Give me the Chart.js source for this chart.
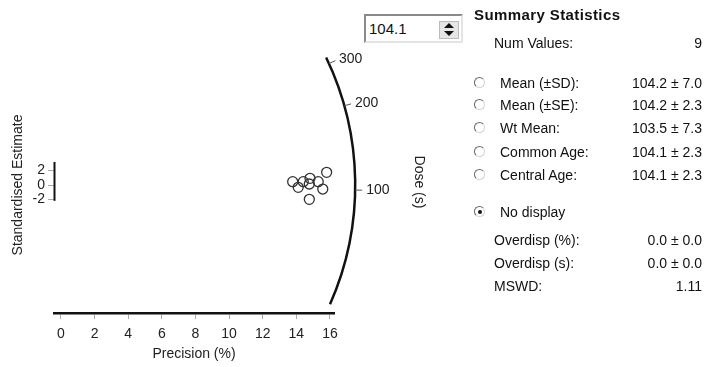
<!DOCTYPE html>
<html lang="en">
<head>
  <meta charset="UTF-8">
  <title>Radial Plot</title>
  <script src="https://cdn.jsdelivr.net/npm/chart.js"></script>
  <style>
    body { margin: 0; background: #fff; width: 705px; height: 367px; overflow: hidden; position: relative; font-family: "Liberation Sans", Arial, sans-serif; color: #111; }
    #plot { position: absolute; left: 0; top: 0; }
    #refBox { position: absolute; left: 364px; top: 14px; width: 95px; height: 25px; background: #fff;
      border: 2px solid; border-color: #8a8a8a #e4e4e4 #e4e4e4 #8a8a8a; font-size: 15px; }
    #refBox span { position: absolute; left: 3px; top: 4px; }
    #refBox .spin { position: absolute; right: 2px; top: 5px; width: 18px; height: 16px; background: #e6e6e6; border: 1px solid #bbb; }
    #refBox .up, #refBox .down { position: absolute; left: 4px; width: 0; height: 0; border-left: 5px solid transparent; border-right: 5px solid transparent; }
    #refBox .up { top: 1px; border-bottom: 5px solid #111; }
    #refBox .down { top: 9px; border-top: 5px solid #111; }
    .txt { position: absolute; height: 16px; line-height: 16px; font-size: 14px; white-space: nowrap; }
    .val { position: absolute; right: 3px; height: 16px; line-height: 16px; font-size: 14px; white-space: nowrap; }
    .radio { position: absolute; left: 474px; width: 9px; height: 9px; border-radius: 50%; border: 1.5px solid; border-color: #666 #d4d4d4 #d4d4d4 #666; }
    .radio.on::after { content: ""; position: absolute; left: 2.5px; top: 2.5px; width: 4px; height: 4px; border-radius: 50%; background: #111; }
  </style>
</head>
<body>
<canvas id="plot" width="460" height="367"></canvas>
<div id="refBox"><span id="refText"></span><div class="spin"><div class="up"></div><div class="down"></div></div></div>
<div class="txt" style="left:474px; top:7px; font-weight:bold; font-size:15px; letter-spacing:0.4px;">Summary Statistics</div>
<div id="panel"></div>

<script>
  // radial plot data
  const precision = [13.78, 14.11, 14.41, 14.81, 14.77, 15.30, 15.57, 15.80, 14.77];
  const stdEstimate = [0.46, -0.32, 0.46, 0.93, 0.14, 0.46, -0.56, 1.76, -1.99];
  const precisionTicks = [0, 2, 4, 6, 8, 10, 12, 14, 16];
  const estimateTicks = [-2, 0, 2];
  const doseTicks = [100, 200, 300];
  const refDose = 104.1;
  const arcRadius = 17.5;        // in precision units
  const arcDoseRange = [37, 320];
  const estimateBar = [-2.2, 3.2];

  // summary panel
  const statNames = ["Mean (\u00b1SD):", "Mean (\u00b1SE):", "Wt Mean:", "Common Age:", "Central Age:", "No display"];
  const statValues = ["104.2 \u00b1 7.0", "104.2 \u00b1 2.3", "103.5 \u00b1 7.3", "104.1 \u00b1 2.3", "104.1 \u00b1 2.3", ""];
  const statRows = [83, 105, 128, 152, 175, 212];
  const extraNames = ["Overdisp (%):", "Overdisp (s):", "MSWD:"];
  const extraValues = ["0.0 \u00b1 0.0", "0.0 \u00b1 0.0", "1.11"];
  const extraRows = [240, 263, 286];
  const numValues = precision.length;

  document.getElementById("refText").textContent = refDose.toFixed(1);

  const panel = document.getElementById("panel");
  function addRow(label, value, cy, labelX) {
    const l = document.createElement("div");
    l.className = "txt";
    l.style.left = labelX + "px";
    l.style.top = (cy - 8) + "px";
    l.textContent = label;
    panel.appendChild(l);
    if (value !== "") {
      const v = document.createElement("div");
      v.className = "val";
      v.style.top = (cy - 8) + "px";
      v.textContent = value;
      panel.appendChild(v);
    }
  }
  addRow("Num Values:", String(numValues), 43, 494);
  statNames.forEach((n, i) => {
    addRow(n, statValues[i], statRows[i], 500);
    const r = document.createElement("div");
    r.className = "radio" + (i === statNames.length - 1 ? " on" : "");
    r.style.top = (statRows[i] - 6) + "px";
    panel.appendChild(r);
  });
  extraNames.forEach((n, i) => addRow(n, extraValues[i], extraRows[i], 494));

  const font = { family: "'Liberation Sans', Arial, sans-serif", size: 14 };

  const radialAxis = {
    id: "radialAxis",
    afterDraw(chart) {
      const { ctx, scales: { x, y } } = chart;
      const ox = x.getPixelForValue(0), oy = y.getPixelForValue(0);
      const r = x.getPixelForValue(arcRadius) - ox;
      const kx = x.getPixelForValue(1) - ox;
      const ky = oy - y.getPixelForValue(1);
      const ang = d => Math.atan2(-Math.log(d / refDose) * ky, kx);

      ctx.save();
      // dose arc
      ctx.strokeStyle = "#111";
      ctx.lineWidth = 2.5;
      ctx.beginPath();
      ctx.arc(ox, oy, r, ang(arcDoseRange[1]), ang(arcDoseRange[0]));
      ctx.stroke();

      // dose ticks and labels
      ctx.lineWidth = 1;
      ctx.strokeStyle = "#555";
      ctx.fillStyle = "#222";
      ctx.font = "14px " + font.family;
      ctx.textBaseline = "middle";
      ctx.textAlign = "left";
      doseTicks.forEach(d => {
        const a = ang(d);
        const c = Math.cos(a), s = Math.sin(a);
        ctx.beginPath();
        ctx.moveTo(ox + r * c, oy + r * s);
        ctx.lineTo(ox + (r + 7) * c, oy + (r + 7) * s);
        ctx.stroke();
        ctx.fillText(String(d), ox + (r + 11) * c, oy + (r + 11) * s);
      });

      // dose title
      ctx.translate(ox + r + 64, oy - 3);
      ctx.rotate(Math.PI / 2);
      ctx.textAlign = "center";
      ctx.fillStyle = "#222";
      ctx.fillText("Dose (s)", 0, 0);
      ctx.restore();

      // short standardised estimate bar
      ctx.save();
      ctx.strokeStyle = "#111";
      ctx.lineWidth = 2;
      const bx = chart.chartArea.left + 0.5;
      ctx.beginPath();
      ctx.moveTo(bx, y.getPixelForValue(estimateBar[1]));
      ctx.lineTo(bx, y.getPixelForValue(estimateBar[0]));
      ctx.stroke();
      ctx.restore();
    }
  };

  new Chart(document.getElementById("plot"), {
    type: "scatter",
    data: {
      datasets: [{
        data: precision.map((p, i) => ({ x: p, y: stdEstimate[i] })),
        pointRadius: 5,
        pointBorderWidth: 1.3,
        pointBorderColor: "#333",
        pointBackgroundColor: "rgba(0,0,0,0)"
      }]
    },
    options: {
      responsive: false,
      devicePixelRatio: 1,
      animation: false,
      layout: { padding: { left: 0, right: 126, top: 57, bottom: 0 } },
      plugins: { legend: { display: false }, tooltip: { enabled: false } },
      scales: {
        x: {
          type: "linear",
          min: -0.416,
          max: 16.238,
          afterFit: s => { s.height = 54; },
          afterBuildTicks: s => { s.ticks = precisionTicks.map(v => ({ value: v })); },
          grid: { drawOnChartArea: false, drawTicks: true, tickLength: 6, color: "#aaa" },
          border: { display: true, color: "#111", width: 2.5 },
          ticks: { color: "#222", font: font, padding: 7, maxRotation: 0 },
          title: { display: true, text: "Precision (%)", color: "#222", font: font, padding: { top: 0, bottom: 4 } }
        },
        y: {
          type: "linear",
          min: -17.78,
          max: 17.78,
          afterFit: s => { s.width = 54; },
          afterBuildTicks: s => { s.ticks = estimateTicks.map(v => ({ value: v })); },
          grid: { drawOnChartArea: false, drawTicks: true, tickLength: 6, color: "#aaa" },
          border: { display: false },
          ticks: { color: "#222", font: font, padding: 3 },
          title: { display: true, text: "Standardised Estimate", color: "#222", font: font, padding: { top: 10, bottom: 0 } }
        }
      }
    },
    plugins: [radialAxis]
  });
</script>
</body>
</html>
